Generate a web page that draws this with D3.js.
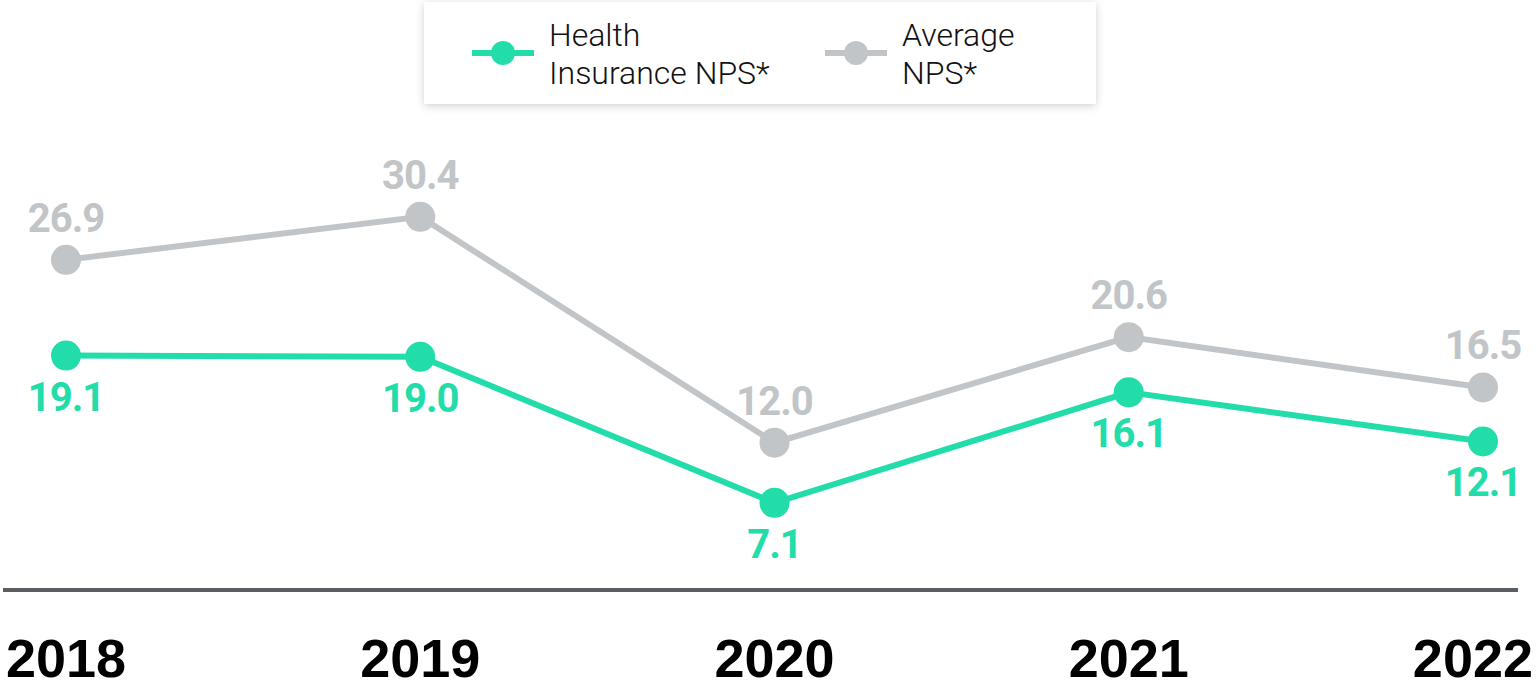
<!DOCTYPE html>
<html lang="en">
<head>
<meta charset="utf-8">
<title>NPS line chart</title>
<script src="https://cdn.jsdelivr.net/npm/d3@7"></script>
<style>
    body { margin: 0; background: #fff; }
    svg { display: block; }
    .val { font-family: Roboto, "Liberation Sans", sans-serif; font-weight: 700; font-size: 40px; text-anchor: middle; letter-spacing: -1px; }
    .year { font-family: "Liberation Sans", Arial, sans-serif; font-weight: 700; font-size: 54px; text-anchor: middle; fill: #000; }
    .leg { font-family: Roboto, sans-serif; font-weight: 300; font-size: 32px; fill: #111; }
</style>
</head>
<body>
<script>
// data
var years = ['2018', '2019', '2020', '2021', '2022'];
var healthNps = [19.1, 19.0, 7.1, 16.1, 12.1];
var averageNps = [26.9, 30.4, 12.0, 20.6, 16.5];
var seriesNames = ['Health\nInsurance NPS*', 'Average\nNPS*'];

var w = 1538, h = 689;
var green = '#22dca9', grey = '#c1c5c8';

var svg = d3.select('body').append('svg')
    .attr('width', w)
    .attr('height', h);

// scales
var x = d3.scalePoint().domain(years).range([66, 1483]);
var y = d3.scaleLinear().domain([0, 40]).range([590, 99]);

// soft shadow for legend
var defs = svg.append('defs');
var f = defs.append('filter').attr('id', 'shadow')
    .attr('x', '-10%').attr('y', '-30%').attr('width', '120%').attr('height', '160%');
f.append('feDropShadow')
    .attr('dx', 0).attr('dy', 2)
    .attr('stdDeviation', 4)
    .attr('flood-color', '#000')
    .attr('flood-opacity', 0.18);

// axis baseline
svg.append('line')
    .attr('x1', 3).attr('x2', 1518)
    .attr('y1', y(0)).attr('y2', y(0))
    .attr('stroke', '#5b5e61')
    .attr('stroke-width', 4);

// year labels, kept inside the page
svg.selectAll('.year')
    .data(years)
    .enter()
    .append('text')
    .attr('class', 'year')
    .attr('y', 677)
    .text(function(d) { return d; })
    .attr('x', function(d) {
        var bw = this.getComputedTextLength();
        return Math.min(x(d), w - 5 - bw / 2);
    });

var line = d3.line()
    .x(function(d, i) { return x(years[i]); })
    .y(function(d) { return y(d); });

function drawSeries(values, color, above) {
    var g = svg.append('g');
    g.append('path')
        .datum(values)
        .attr('d', line)
        .attr('fill', 'none')
        .attr('stroke', color)
        .attr('stroke-width', 6);

    g.selectAll('circle')
        .data(values)
        .enter()
        .append('circle')
        .attr('cx', function(d, i) { return x(years[i]); })
        .attr('cy', function(d) { return y(d); })
        .attr('r', 15)
        .attr('fill', color);

    g.selectAll('text')
        .data(values)
        .enter()
        .append('text')
        .attr('class', 'val')
        .attr('fill', color)
        .attr('x', function(d, i) { return x(years[i]); })
        .attr('y', function(d) { return above ? y(d) - 28 : y(d) + 55; })
        .text(function(d) { return d.toFixed(1); });
}

drawSeries(averageNps, grey, true);
drawSeries(healthNps, green, false);

// legend
var legend = svg.append('g');
legend.append('rect')
    .attr('x', 424).attr('y', 2)
    .attr('width', 672).attr('height', 102)
    .attr('fill', '#fff')
    .attr('filter', 'url(#shadow)');

var items = [
    { name: seriesNames[0], color: green, x: 472 },
    { name: seriesNames[1], color: grey, x: 825 }
];

items.forEach(function(it) {
    var g = legend.append('g').attr('transform', 'translate(' + it.x + ',0)');
    g.append('line')
        .attr('x1', 0).attr('x2', 62)
        .attr('y1', 53).attr('y2', 53)
        .attr('stroke', it.color)
        .attr('stroke-width', 6);
    g.append('circle')
        .attr('cx', 31).attr('cy', 53).attr('r', 12)
        .attr('fill', it.color);
    var t = g.append('text').attr('class', 'leg');
    it.name.split('\n').forEach(function(s, i) {
        t.append('tspan')
            .attr('x', 77)
            .attr('y', 46 + i * 38)
            .text(s);
    });
});
</script>
</body>
</html>
